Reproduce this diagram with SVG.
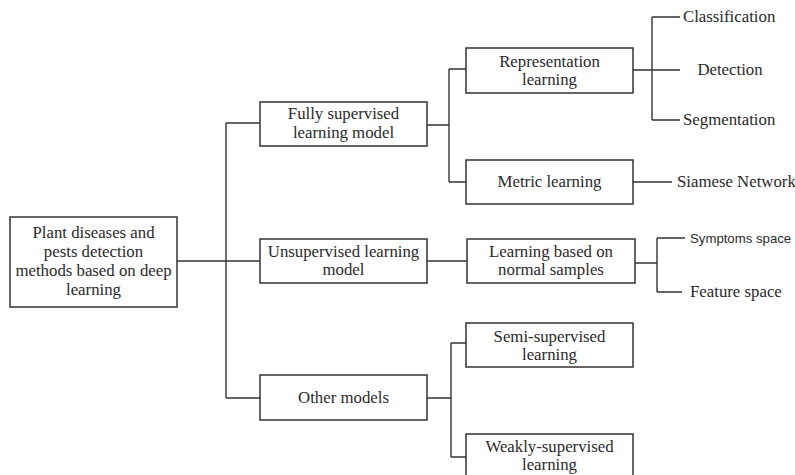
<svg xmlns="http://www.w3.org/2000/svg" width="795" height="475" viewBox="0 0 795 475">
<style>
.box{fill:#fff;stroke:#333;stroke-width:1.5}
.t{font-family:'Liberation Serif',Tinos,'Times New Roman','DejaVu Serif',serif;font-size:16.8px;fill:#2a2a2a;text-anchor:middle}
.l{font-family:'Liberation Serif',Tinos,'Times New Roman','DejaVu Serif',serif;font-size:16.8px;fill:#2a2a2a}
.s{font-family:'Liberation Sans',Arial,sans-serif;font-size:13.2px;fill:#2a2a2a}
.c{fill:none;stroke:#333;stroke-width:1.4}
</style>
<rect width="795" height="475" fill="#fff"/>
<g id="connectors">
<path class="c" d="M177,261H226M226,123V398M226,123H260M226,261H260M226,398H260"/>
<path class="c" d="M427,125H449M449,69V182M449,69H466M449,182H466"/>
<path class="c" d="M633,70H680M652,17V120M652,17H680M652,120H680"/>
<path class="c" d="M633,182H672"/>
<path class="c" d="M427,261H467"/>
<path class="c" d="M635,263H657M657,238V292M657,238H685M657,292H682"/>
<path class="c" d="M427,398H451M451,343V457M451,343H466M451,457H466"/>
</g>
<g id="root">
<rect class="box" x="10" y="217" width="167" height="90"/>
<text class="t" x="93.5" y="238">Plant diseases and</text>
<text class="t" x="93.5" y="257">pests detection</text>
<text class="t" x="93.5" y="276">methods based on deep</text>
<text class="t" x="93.5" y="295">learning</text>
</g>
<g id="fully">
<rect class="box" x="260" y="102" width="167" height="44"/>
<text class="t" x="343.5" y="119">Fully supervised</text>
<text class="t" x="343.5" y="138">learning model</text>
</g>
<g id="unsup">
<rect class="box" x="260" y="239" width="167" height="44"/>
<text class="t" x="343.5" y="257">Unsupervised learning</text>
<text class="t" x="343.5" y="275">model</text>
</g>
<g id="other">
<rect class="box" x="260" y="375" width="167" height="45"/>
<text class="t" x="343.5" y="403">Other models</text>
</g>
<g id="repr">
<rect class="box" x="466" y="48" width="167" height="45"/>
<text class="t" x="549.5" y="67">Representation</text>
<text class="t" x="549.5" y="85">learning</text>
</g>
<g id="metric">
<rect class="box" x="466" y="160" width="167" height="44"/>
<text class="t" x="549.5" y="187">Metric learning</text>
</g>
<g id="normal">
<rect class="box" x="467" y="239" width="168" height="44"/>
<text class="t" x="551" y="257">Learning based on</text>
<text class="t" x="551" y="275">normal samples</text>
</g>
<g id="semi">
<rect class="box" x="466" y="323" width="167" height="44"/>
<text class="t" x="549.5" y="342">Semi-supervised</text>
<text class="t" x="549.5" y="360">learning</text>
</g>
<g id="weakly">
<rect class="box" x="466" y="434" width="167" height="46"/>
<text class="t" x="549.5" y="452">Weakly-supervised</text>
<text class="t" x="549.5" y="470">learning</text>
</g>
<g id="classification"><text class="l" x="683" y="22">Classification</text></g>
<g id="detection"><text class="t" x="730" y="75">Detection</text></g>
<g id="segmentation"><text class="l" x="683" y="125">Segmentation</text></g>
<g id="siamese"><text class="l" x="677" y="187">Siamese Network</text></g>
<g id="symptoms"><text class="s" x="690" y="243">Symptoms space</text></g>
<g id="feature"><text class="l" x="690" y="297">Feature space</text></g>
</svg>
